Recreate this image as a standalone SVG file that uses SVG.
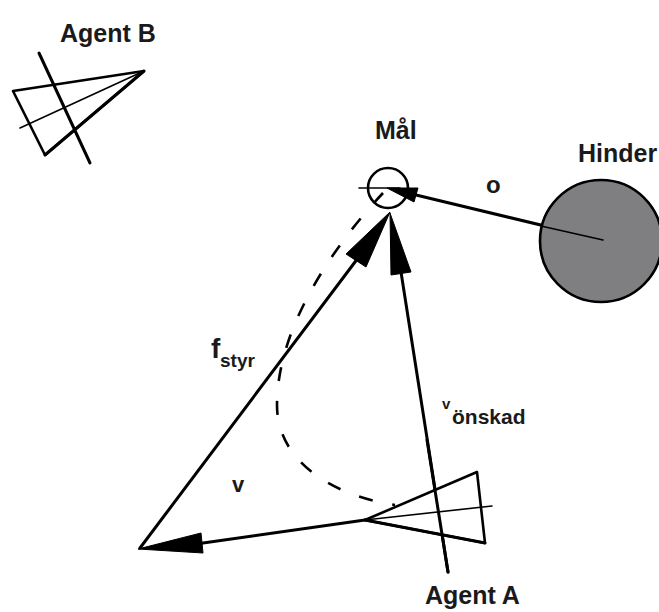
<svg xmlns="http://www.w3.org/2000/svg" width="659" height="612" viewBox="0 0 659 612">
  <style>
    .lbl { font-family: "Liberation Sans", Arial, sans-serif; font-weight: bold; fill: #1a1a1a; }
    .edge { fill: none; stroke: #000; stroke-width: 3; stroke-linecap: round; stroke-linejoin: round; }
    .thin { fill: none; stroke: #000; stroke-width: 1.6; stroke-linecap: round; }
    .agent { fill: #fff; stroke: #000; stroke-width: 2.6; stroke-linejoin: round; }
    .head { fill: #000; stroke: #000; stroke-width: 1; stroke-linejoin: round; }
    .dash { fill: none; stroke: #000; stroke-width: 2.6; stroke-dasharray: 14 20; }
  </style>
  <rect width="659" height="612" fill="#fff"/>

  <g id="connectors">
    <!-- dashed path of the agent -->
    <path class="dash" d="M383,193 C330,250 277,330 277,405 C277,460 330,495 395,505"/>
    <!-- f_styr -->
    <line class="edge" x1="140" y1="548" x2="358" y2="258"/>
    <polygon class="head" points="390,212 346,254 366,267"/>
    <!-- v_önskad (also axis of Agent A) -->
    <line class="edge" x1="401" y1="272" x2="448" y2="572" stroke-width="3"/>
    <polygon class="head" points="390,213 391,275 411,272"/>
    <!-- v -->
    <line class="edge" x1="365" y1="520" x2="196" y2="544"/>
    <polygon class="head" points="138,549 201,533 203,553"/>
    <!-- o (from Hinder to Mål) -->
    <line class="edge" x1="603" y1="240" x2="416" y2="195" stroke-width="2.6"/>
    <polygon class="head" points="387,188 418,188 414,202"/>
  </g>

  <g id="hinder">
    <circle cx="601" cy="241" r="61" fill="#7f7f82" stroke="#000" stroke-width="2.6"/>
    <line class="thin" x1="541" y1="226" x2="603" y2="240" stroke-width="2"/>
    <text class="lbl" x="578" y="162" font-size="25">Hinder</text>
  </g>

  <g id="mal">
    <circle cx="388" cy="188" r="20" fill="none" stroke="#000" stroke-width="2.6"/>
    <line class="thin" x1="359" y1="188" x2="400" y2="188" stroke-width="2"/>
    <text class="lbl" x="375" y="139" font-size="25">Mål</text>
  </g>

  <g id="agentB">
    <polygon class="agent" points="13,91 45,155 144,71"/>
    <line class="edge" x1="45" y1="155" x2="144" y2="71" stroke-width="3.4"/>
    <line class="thin" x1="20" y1="128" x2="144" y2="71"/>
    <line class="edge" x1="39" y1="53" x2="90" y2="163" stroke-width="2.8"/>
    <text class="lbl" x="60" y="42" font-size="25">Agent B</text>
  </g>

  <g id="agentA">
    <polygon class="agent" points="365,520 477,472 485,543"/>
    <line class="edge" x1="365" y1="520" x2="485" y2="543" stroke-width="3.2"/>
    <line class="thin" x1="365" y1="520" x2="492" y2="506"/>
    <line class="edge" x1="427" y1="440" x2="448" y2="572" stroke-width="2.8"/>
    <text class="lbl" x="425" y="604" font-size="25">Agent A</text>
  </g>

  <g id="labels">
    <text class="lbl" x="486" y="193" font-size="24">o</text>
    <text class="lbl" x="211" y="358" font-size="28">f</text>
    <text class="lbl" x="220" y="367" font-size="19">styr</text>
    <text class="lbl" x="442" y="409" font-size="15">v</text>
    <text class="lbl" x="452" y="424" font-size="21">önskad</text>
    <text class="lbl" x="232" y="492" font-size="22">v</text>
  </g>
</svg>
